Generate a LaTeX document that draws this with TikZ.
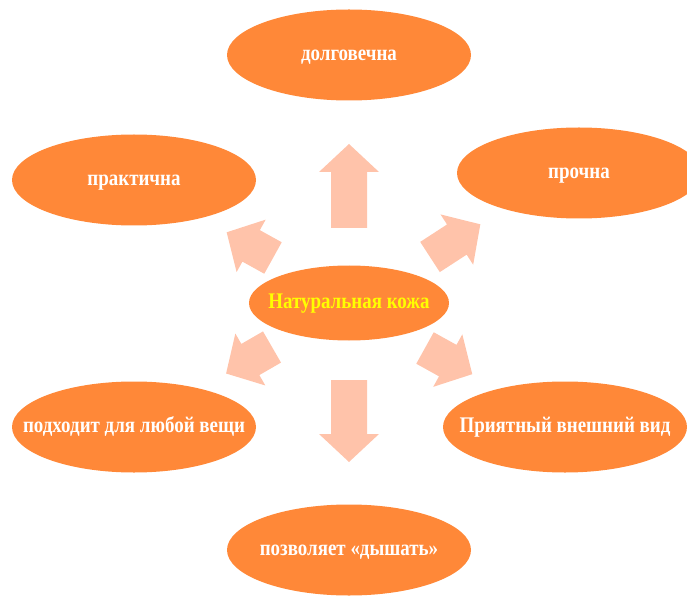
\documentclass[tikz,border=0pt]{standalone}
\usepackage{fontspec}
\setmainfont{Liberation Serif}[FakeStretch=0.85]
\usepackage{xcolor}
\usetikzlibrary{shapes.geometric}
\definecolor{leather}{HTML}{FF8838}
\definecolor{peach}{HTML}{FFC3AA}
\definecolor{gold}{HTML}{FFFF00}

\tikzset{
  prop/.style={ellipse,fill=leather,text=white,inner xsep=-70pt,inner ysep=0pt,
    text height=11.5pt,text depth=0pt,
    minimum width=244pt,minimum height=91pt,font=\fontsize{22.3}{25}\selectfont\bfseries},
  pics/blockarrow/.style={code={
    \fill[peach] (0,-18) -- (#1-28,-18) -- (#1-28,-30) -- (#1,0)
      -- (#1-28,30) -- (#1-28,18) -- (0,18) -- cycle;}}
}

\begin{document}
\begin{tikzpicture}[x=1pt,y=1pt]
\useasboundingbox (0,0) rectangle (687,595);
\clip (0,0) rectangle (687,595);

\node [prop,minimum width=200pt,minimum height=75pt,text=gold] (skin) at (349,292) {Натуральная кожа};

\node [prop] (long) at (349,540) {долговечна};
\node [prop] (pract) at (134,415) {практична};
\node [prop] (strong) at (579,422) {прочна};
\node [prop] (any) at (134,168) {подходит для любой вещи};
\node [prop] (look) at (565,168) {Приятный внешний вид};
\node [prop] (breathe) at (349,45) {позволяет «дышать»};

% block arrows round the centre
\pic [rotate=90] at (349,367) {blockarrow=84};
\pic [rotate=-90] at (349,215) {blockarrow=82};
\pic [rotate=151] at (273,337) {blockarrow=53};
\pic [rotate=33] at (430,338) {blockarrow=60};
\pic [rotate=210] at (272,248) {blockarrow=53};
\pic [rotate=-29] at (425,247) {blockarrow=54};

\end{tikzpicture}
\end{document}
